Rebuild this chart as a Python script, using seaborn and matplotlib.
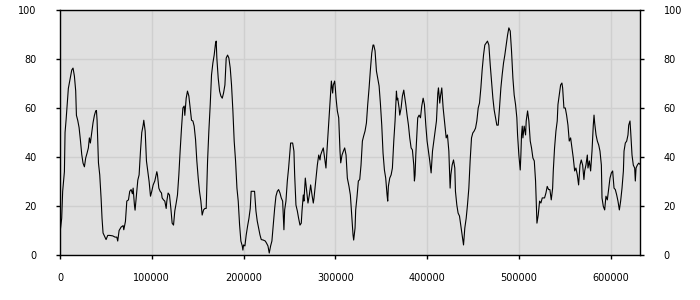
import numpy as np
import pandas as pd
import seaborn as sns
import matplotlib
matplotlib.use("Agg")
import matplotlib.pyplot as plt
from matplotlib.ticker import FixedLocator, FuncFormatter

# x positions (in data units, thousands) and values
x_k = [0, 1.85, 2.9, 4.8, 5.5, 6.6, 7.7, 9.1, 10.6, 12.8, 14.2, 15.7, 17.1, 17.9, 19.3,
       20.8, 22.2, 23.7, 25.1, 26.6, 28.0, 29.5, 30.9, 32.0, 33.1, 34.6, 36.0, 37.5,
       38.9, 39.7, 40.4, 41.1, 41.9, 43.3, 44.8, 45.8, 46.9, 48.4, 50.2, 52.0, 54.2,
       57.5, 60.0, 61.9, 62.9, 64.4, 66.6, 68.8, 69.5, 71.3, 72.8, 74.6, 76.0, 77.5,
       78.9, 79.7, 81.1, 81.8, 83.3, 84.8, 86.2, 87.7, 89.1, 90.6, 91.3, 92.8, 94.2,
       95.7, 97.1, 98.6, 100.0, 101.5,
       103.3, 105.5, 106.2, 107.7, 109.1, 110.6, 111.3, 112.8, 114.2, 115.7, 116.4,
       117.8, 119.3, 120.8, 122.2, 123.7, 125.1, 126.6, 128.0, 129.5, 130.9, 132.4,
       133.9, 135.3, 136.0, 137.5, 138.9, 140.4, 141.8, 143.3, 144.8, 146.2, 147.7,
       149.1, 150.6, 152.0, 153.5, 154.9, 156.4, 157.9, 159.3, 160.8, 162.2, 163.7,
       165.1, 166.6, 168.0, 169.5, 170.2, 170.9, 172.4, 173.9, 175.3, 176.8, 178.2,
       179.7, 181.1, 182.6, 184.0, 185.5, 186.9, 188.4, 189.8, 191.3, 192.8, 194.2,
       195.7, 197.1, 198.6, 199.3, 200.0, 201.5, 202.9, 204.4, 205.9, 207.3, 208.3,
       209.1, 212.0, 213.5, 214.9, 216.4, 217.9, 219.3, 221.5, 223.7, 225.1, 226.6,
       228.0, 229.5, 230.9, 232.4, 233.9, 235.3, 236.8, 238.2, 239.7, 241.1, 242.6,
       244.0, 244.8, 246.2, 247.7, 249.1, 250.6, 251.3, 253.5, 254.9, 255.7, 257.1,
       258.6, 260.0, 261.5, 262.9, 263.7, 265.1, 265.8, 266.6, 267.3, 268.8, 270.2,
       271.7, 273.1, 274.6, 276.0, 276.8, 278.2, 279.7, 280.4, 281.9, 283.3, 284.0,
       285.5, 286.9, 288.4, 289.8, 290.6, 292.0, 293.5, 294.9, 295.7, 297.1, 297.8,
       299.3, 300.0, 300.8, 302.2, 303.7, 305.1, 305.9, 307.3, 308.8, 310.2, 311.7,
       313.1,
       314.9, 316.4, 317.9, 319.3, 320.0, 321.5, 322.2, 323.7, 325.1, 326.6, 328.0,
       329.5, 330.9, 332.4, 333.9, 335.3, 336.8, 338.2, 339.7, 341.1, 341.9, 343.3,
       344.8, 346.2, 347.7, 349.1, 350.6, 352.0, 353.5, 354.9, 356.4, 357.1, 357.8,
       359.3, 360.8, 362.2, 363.7, 365.1, 366.6, 367.3, 368.0, 369.5, 370.2, 371.7,
       373.1, 374.6, 375.3, 376.8, 378.2, 379.7, 381.1, 382.6, 384.0, 385.5, 386.2,
       386.9, 387.7, 389.1, 389.8, 391.3, 392.8, 394.2, 395.7, 397.1, 398.6, 400.0,
       401.5, 402.9, 404.4, 405.9, 407.3, 408.8, 410.2, 411.7, 412.4, 413.8, 414.6,
       416.0, 417.5, 418.9,
       420.8, 422.2, 423.7, 425.1, 425.9, 427.3, 428.8, 430.2, 430.9, 432.4, 433.8,
       435.3, 436.8, 438.2, 439.7, 441.1, 442.6, 444.0, 445.5, 446.9, 448.4, 449.8,
       451.3, 452.8, 454.2, 455.7, 457.1, 458.6, 460.0, 461.5, 462.9, 464.4, 465.8,
       467.3, 468.8, 470.2, 471.7, 473.1, 474.6, 476.0, 477.5, 478.9, 480.4, 481.8,
       483.3, 484.7, 486.2, 487.7, 489.1, 490.6, 492.0, 493.5, 494.9, 496.4, 497.8,
       498.6, 500.0, 501.5, 502.2, 502.9, 503.7, 504.4, 505.8, 507.3, 508.0, 509.5,
       510.9, 512.4, 513.8, 515.3, 516.8, 518.2, 518.9, 519.7, 521.1, 522.6, 524.0,
       525.5,
       526.6, 528.0, 529.5, 530.9, 532.4, 533.8, 535.3, 536.8, 537.5, 538.9, 540.4,
       541.8, 542.6, 544.0, 545.5, 546.9, 547.7, 549.1, 550.6, 552.0, 553.5, 554.9,
       556.4, 557.8, 559.3, 560.8, 562.2, 563.7, 565.1, 566.6, 568.0, 569.5, 570.9,
       571.7, 573.1, 574.6, 575.3, 576.8, 578.2, 579.7, 581.1, 581.9, 582.6, 584.1,
       585.5, 587.0, 588.4, 589.9, 590.6, 592.0, 593.5, 594.9, 596.4, 597.8, 599.3,
       600.8, 602.2, 603.7, 605.1, 606.6, 608.0, 609.5, 610.9, 612.4, 613.9, 614.6,
       616.0, 617.5, 618.9, 619.7, 621.1, 621.8, 623.3, 624.7, 626.2, 626.9, 627.7,
       629.1, 630.6, 632.0]

values = [9.0, 15, 26, 34, 50, 55, 61, 68, 71, 75.5, 76.3, 73, 67, 57, 55,
          52, 47, 41, 37.5, 36, 39.6, 41.6, 43.7, 47.8, 45.7, 50, 54, 57,
          58.8, 59, 55, 46.5, 37.6, 32.7, 23, 15, 9, 7.8, 6.3, 8, 8,
          7.8, 7.3, 7.3, 5.7, 10, 11.4, 12, 10.3, 13.7, 22, 22.5, 26, 26.7,
          25, 27.3, 20.4, 18.3, 24.5, 30.6, 32.7, 42.4, 50, 53, 55, 50.6, 38.4,
          34, 30, 24, 26, 28.6,
          30.2, 34, 32.7, 27.3, 26, 25.3, 23.3, 22.5, 22, 19, 22,
          25.3, 24.5, 19, 13, 12.2, 18, 21.2, 24.5, 32.7, 42.4, 51.8,
          60, 60.8, 57, 64, 66.9, 64.9, 60, 55, 54.7, 52.6, 47.1,
          38.4, 31.4, 26, 22, 16.3, 18.4, 19, 19, 38.4, 50.6, 61.4,
          73.5, 78.4, 81.6, 86.5, 87.3, 80.4, 72.2, 66.9, 64.9, 64, 66.1,
          69.4, 80.4, 81.6, 80.4, 76.3, 69.4, 58.8, 46.5, 38.4, 27.3, 22,
          12.2, 5.7, 3.7, 2, 4.1, 3.7, 8.2, 11.8, 15, 19, 26,
          26, 26, 18, 13.9, 11, 8.2, 6.3, 6.1, 5.7, 4.8, 3.7,
          0.8, 3.7, 5.7, 12.2, 19, 24, 26, 26.7, 25.3, 23.3, 22,
          10.3, 18.4, 22, 30.2, 35.5, 42.4, 45.7, 45.7, 42.4, 32.7, 20.4,
          18, 15, 12.2, 13, 18, 24.5, 22, 27.3, 31.4, 26, 21.2,
          24.5, 28.6, 24.5, 21.2, 23.3, 28.6, 34.3, 36.7, 40.8, 38.8, 40.8,
          42.4, 43.7, 39.6, 35.5, 40.8, 49, 57.1, 65.3, 71, 66.1, 69.4,
          71, 68.2, 64, 58.8, 56, 42.4, 37.6, 40.8, 42.4, 43.7, 40.8,
          31.4,
          28, 24.5, 16.3, 8.2, 6.1, 11, 18.4, 24, 30.2, 30.8, 36.7,
          46.5, 48.6, 50.6, 53.9, 61.4, 68.2, 75.5, 82.4, 85.7, 85.7, 83.3,
          75.1, 72.2, 69, 62, 53, 41.6, 34.7, 31.4, 24.5, 22, 28,
          31.4, 32.7, 35.5, 46.5, 54.7, 66.9, 63.3, 64, 60, 57.1, 60,
          64.9, 67.3, 65.3, 61.4, 57.1, 53, 47.8, 43.7, 42.9, 36.7, 30.2,
          32.7, 40.8, 50.6, 56, 57.1, 56, 60.8, 64, 61.4, 53, 46.5,
          42.4, 38.4, 33.5, 42.4, 46.5, 50.6, 54.7, 66.1, 68.2, 62, 64.9,
          68.2, 60, 54.7,
          47.8, 49, 42.4, 27.3, 32.7, 36.7, 38.8, 35.5, 26, 20.4, 17.1,
          15.9, 11.8, 7.8, 4.1, 11, 15, 20.4, 27.3, 38.4, 47.8, 49.8,
          50.6, 51.8, 54.7, 60, 62, 68.2, 75.5, 81.6, 85.7, 86.5, 87.3,
          85.7, 77.6, 71, 64, 59.2, 56, 53, 53, 60, 68.2, 73.5,
          78.4, 81.6, 85.7, 89.8, 92.7, 91.4, 83.3, 72.2, 65.3, 61.4, 56,
          49, 40.8, 34.7, 40.8, 49, 52.6, 47.8, 52.6, 49, 54.7, 58.8,
          54.7, 46.5, 43.7, 39.6, 38.4, 30.2, 22, 13, 16.3, 22, 21.2,
          23.3,
          23.3, 23.3, 25.3, 28, 26.7, 26.7, 22.5, 27.3, 34.3, 43.7, 50.6,
          54.7, 61.4, 65.3, 69.4, 70.2, 68.2, 60, 60, 57.1, 53, 46.5,
          47.8, 43.7, 39.6, 34.3, 35.5, 32.7, 28.6, 36.7, 38.8, 36.7, 30.8,
          34.3, 36.7, 40.8, 35.5, 38.4, 34.3, 42.4, 53, 57.1, 53.9, 49,
          46.5, 44.9, 42.4, 36.7, 23.3, 19.9, 18.4, 24, 22.5, 26.7, 31.4,
          33.5, 34.3, 27.3, 26.7, 24.5, 22, 18.4, 22, 27.3, 34.3, 42.4,
          45.7, 46.5, 49, 53, 54.7, 50.6, 40.8, 36.7, 35.5, 30.2, 35.5,
          36.7, 37.5, 37]

x_ticks = [0, 100000, 200000, 300000, 400000, 500000, 600000]
y_ticks = [0, 20, 40, 60, 80, 100]

n = min(len(x_k), len(values))
df = pd.DataFrame({"x": np.array(x_k[:n]) * 1000.0, "y": values[:n]})

sns.set_style("white", {"axes.facecolor": "#e0e0e0"})
plt.rcParams["font.family"] = ["DejaVu Sans"]

fig = plt.figure(figsize=(7, 3), dpi=100)
ax = fig.add_axes([60 / 700, 45 / 300, 580 / 700, 245 / 300])

sns.lineplot(data=df, x="x", y="y", ax=ax, color="black", linewidth=0.8,
             estimator=None, sort=False)

ax.set_xlim(0, df["x"].max())
ax.set_ylim(0, 100)
ax.xaxis.set_major_locator(FixedLocator(x_ticks))
ax.yaxis.set_major_locator(FixedLocator(y_ticks))
ax.xaxis.set_major_formatter(FuncFormatter(lambda v, p: f"{int(round(v))}"))
ax.yaxis.set_major_formatter(FuncFormatter(lambda v, p: f"{int(round(v))}"))
ax.set_xlabel("")
ax.set_ylabel("")

ax.grid(True, color="#cfcfcf", linewidth=1.0)
ax.set_axisbelow(True)
for s in ax.spines.values():
    s.set_visible(True)
    s.set_color("black")
    s.set_linewidth(1.0)

ax.tick_params(axis="y", which="both", left=True, right=True, labelleft=True,
               labelright=True, direction="out", length=3, width=1,
               color="black", labelsize=7, pad=14, labelcolor="black")
ax.tick_params(axis="x", which="both", bottom=True, direction="out", length=3,
               width=1, color="black", labelsize=7, pad=10, labelcolor="black")

fig.savefig("out.png", dpi=100)
